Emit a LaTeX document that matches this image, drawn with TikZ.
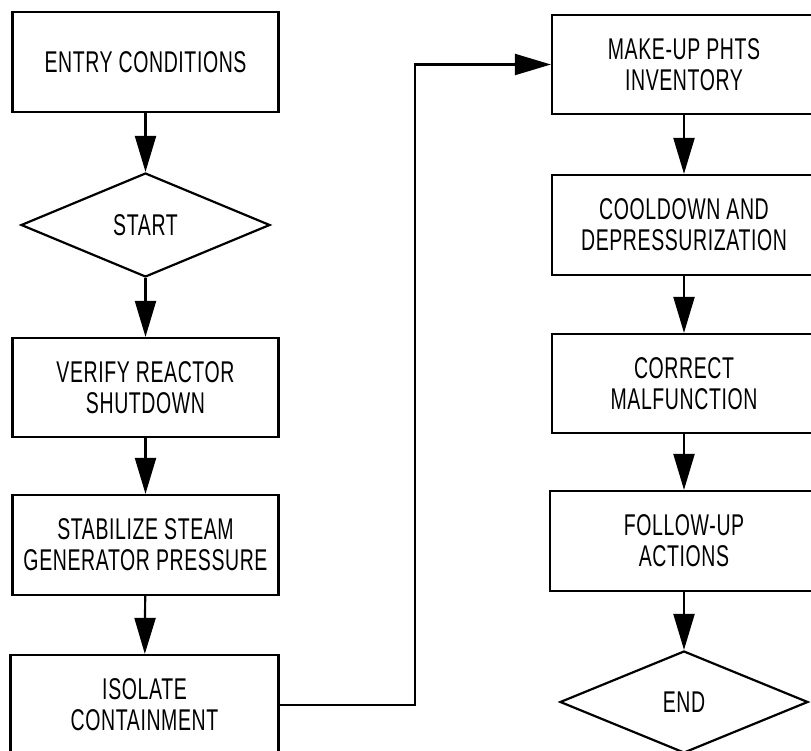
\documentclass[tikz,border=0pt]{standalone}
\usepackage{fontspec}
\newfontfamily\flowfont[FakeStretch=0.65,LetterSpace=2]{Liberation Sans}
\usetikzlibrary{arrows.meta,shapes.geometric}
\begin{document}
\begin{tikzpicture}[x=1pt,y=-1pt,
  txt/.style={align=center, font=\flowfont\fontsize{30}{31}\selectfont},
  box/.style={txt, draw, line width=2.2pt, rectangle, minimum width=266pt, minimum height=100pt, inner sep=0pt},
  dia/.style={txt, draw, line width=2.2pt, diamond, inner sep=0pt, minimum width=249pt, minimum height=104pt},
  flow/.style={line width=2.2pt, -{Triangle[length=36pt,width=21pt]}}]
\useasboundingbox (0,0) rectangle (811,751);
\clip (0,0) rectangle (811,751);
% left column
\node[box] (entry) at (145.5,62) {ENTRY CONDITIONS};
\node[dia] (start) at (145.5,225) {START};
\node[box, minimum height=99pt] (verify) at (145.5,387.5) {VERIFY REACTOR\\SHUTDOWN};
\node[box] (stab) at (145.5,545) {STABILIZE STEAM\\GENERATOR PRESSURE};
\node[box, minimum width=268pt] (isolate) at (144.5,705) {ISOLATE\\CONTAINMENT};
% right column
\node[box, minimum width=264pt, minimum height=99pt] (makeup) at (684,64.5) {MAKE-UP PHTS\\INVENTORY};
\node[box, minimum width=264pt] (cool) at (684,225) {COOLDOWN AND\\DEPRESSURIZATION};
\node[box, minimum width=264pt, minimum height=99pt] (correct) at (684,383.5) {CORRECT\\MALFUNCTION};
\node[box, minimum width=268pt] (follow) at (684,541) {FOLLOW-UP\\ACTIONS};
\node[dia, minimum width=248pt, minimum height=102pt] (end) at (684,702) {END};
% connectors
\draw[flow] (entry) -- (start);
\draw[flow] (start) -- (verify);
\draw[flow] (verify) -- (stab);
\draw[flow] (stab) -- (isolate);
\draw[flow] (isolate.east) -- ++(135,0) |- (makeup.west);
\draw[flow] (makeup) -- (cool);
\draw[flow] (cool) -- (correct);
\draw[flow] (correct) -- (follow);
\draw[flow] (follow) -- (end);
\end{tikzpicture}
\end{document}
